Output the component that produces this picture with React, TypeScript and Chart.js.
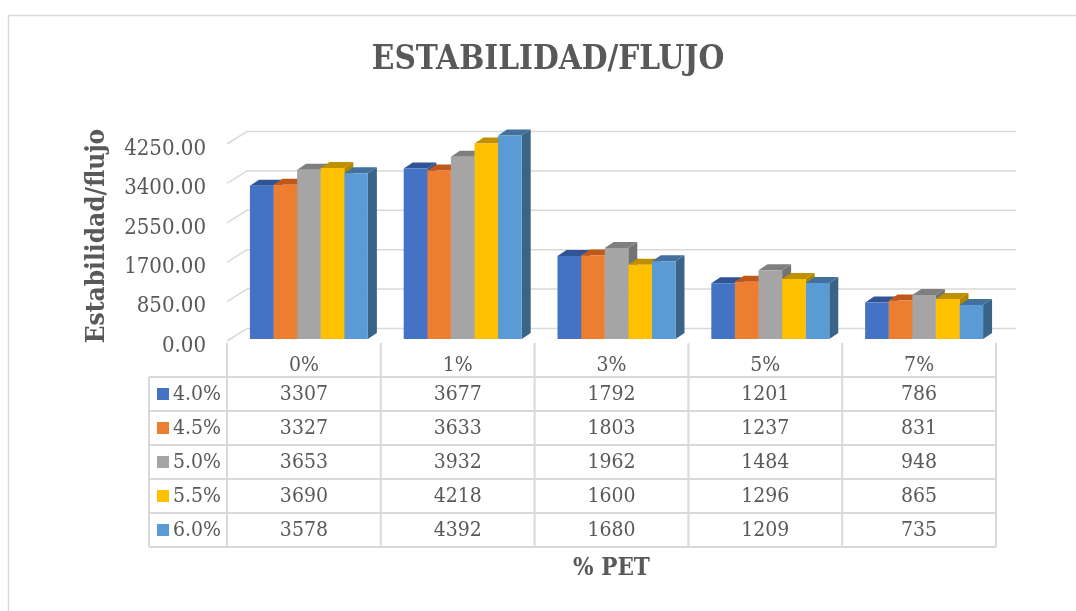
import React, { useEffect, useRef } from 'react';
import { Chart, registerables } from 'chart.js';

Chart.register(...registerables);

const categories = ['0%', '1%', '3%', '5%', '7%'];
const seriesLabels = ['4.0%', '4.5%', '5.0%', '5.5%', '6.0%'];
const s40 = [3307, 3677, 1792, 1201, 786];
const s45 = [3327, 3633, 1803, 1237, 831];
const s50 = [3653, 3932, 1962, 1484, 948];
const s55 = [3690, 4218, 1600, 1296, 865];
const s60 = [3578, 4392, 1680, 1209, 735];
const yTicks = [0, 850, 1700, 2550, 3400, 4250];
const frontColors = ['#4472C4', '#ED7D31', '#A5A5A5', '#FFC000', '#5B9BD5'];
const topColors = ['#2F5597', '#C0581A', '#7F7F7F', '#BF9000', '#41719C'];
const sideColors = ['#2E5090', '#B0521A', '#737373', '#B08500', '#3A6388'];

const FONT = '"DejaVu Serif Condensed", "DejaVu Serif", serif';
const TEXT = '#595959';
const LINE = '#d9d9d9';

const DX = 9;
const DY = -6;

const threeDPlugin = {
  id: 'threeD',
  beforeDatasetsDraw(chart: any) {
    const { ctx, chartArea } = chart;
    const y = chart.scales.y;
    ctx.save();
    // outer frame
    ctx.strokeStyle = LINE;
    ctx.lineWidth = 1.5;
    ctx.beginPath();
    ctx.moveTo(8.5, 611);
    ctx.lineTo(8.5, 15.5);
    ctx.lineTo(1076, 15.5);
    ctx.stroke();

    // 3D gridlines
    const catW = (chartArea.right - chartArea.left) / categories.length;
    const frontLeft = chartArea.left - 5;
    const frontRight = frontLeft + catW * categories.length;
    ctx.strokeStyle = LINE;
    ctx.lineWidth = 1.5;
    for (const v of yTicks) {
      const py = y.getPixelForValue(v);
      ctx.beginPath();
      ctx.moveTo(frontLeft, py + 2);
      ctx.lineTo(frontLeft + 20, py - 10.5);
      ctx.lineTo(frontRight + 20, py - 10.5);
      ctx.stroke();
    }

    // y tick labels
    ctx.fillStyle = TEXT;
    ctx.font = `22px ${FONT}`;
    ctx.textAlign = 'right';
    ctx.textBaseline = 'middle';
    for (const v of yTicks) {
      const py = y.getPixelForValue(v);
      ctx.fillText(v.toFixed(2), 206, py + 7);
    }

    // y title
    ctx.save();
    ctx.translate(97, 236);
    ctx.rotate(-Math.PI / 2);
    ctx.font = `bold 26px ${FONT}`;
    ctx.textAlign = 'center';
    ctx.textBaseline = 'middle';
    ctx.fillText('Estabilidad/flujo', 0, 0);
    ctx.restore();

    // chart title
    ctx.font = `bold 33px ${FONT}`;
    ctx.textAlign = 'center';
    ctx.textBaseline = 'middle';
    ctx.fillText('ESTABILIDAD/FLUJO', 548, 60);

    // x title
    ctx.font = `bold 24px ${FONT}`;
    ctx.fillText('% PET', (frontLeft + frontRight) / 2, 569);

    // data table
    const headTop = 343;
    const rowTop = 377;
    const rowH = 34;
    const legendLeft = 149;
    const nRows = seriesLabels.length;
    ctx.strokeStyle = LINE;
    ctx.lineWidth = 2;
    for (let i = 0; i <= categories.length; i++) {
      const px = frontLeft + i * catW;
      ctx.beginPath();
      ctx.moveTo(px, headTop);
      ctx.lineTo(px, rowTop + nRows * rowH);
      ctx.stroke();
    }
    ctx.beginPath();
    ctx.moveTo(legendLeft, rowTop);
    ctx.lineTo(legendLeft, rowTop + nRows * rowH);
    ctx.stroke();
    for (let r = 0; r <= nRows; r++) {
      const py = rowTop + r * rowH;
      ctx.beginPath();
      ctx.moveTo(legendLeft, py);
      ctx.lineTo(frontRight, py);
      ctx.stroke();
    }
    ctx.fillStyle = TEXT;
    ctx.font = `21px ${FONT}`;
    ctx.textAlign = 'center';
    ctx.textBaseline = 'middle';
    categories.forEach((c, i) => {
      ctx.fillText(c, frontLeft + (i + 0.5) * catW, 366);
    });
    chart.data.datasets.forEach((ds: any, r: number) => {
      const cy = rowTop + r * rowH + rowH / 2 + 1;
      ctx.fillStyle = frontColors[r];
      ctx.fillRect(157, cy - 7, 12, 12);
      ctx.fillStyle = TEXT;
      ctx.textAlign = 'left';
      ctx.fillText(ds.label, 173, cy);
      ctx.textAlign = 'center';
      ds.data.forEach((v: number, i: number) => {
        ctx.fillText(String(v), frontLeft + (i + 0.5) * catW, cy);
      });
    });

    // bar side and top faces
    chart.data.datasets.forEach((ds: any, di: number) => {
      const meta = chart.getDatasetMeta(di);
      meta.data.forEach((bar: any) => {
        const { x: bx, y: by, base, width } = bar.getProps(['x', 'y', 'base', 'width'], true);
        const l = bx - width / 2;
        const r = bx + width / 2;
        ctx.fillStyle = sideColors[di];
        ctx.beginPath();
        ctx.moveTo(r, by);
        ctx.lineTo(r + DX, by + DY);
        ctx.lineTo(r + DX, base + DY);
        ctx.lineTo(r, base);
        ctx.closePath();
        ctx.fill();
        ctx.fillStyle = topColors[di];
        ctx.beginPath();
        ctx.moveTo(l, by);
        ctx.lineTo(l + DX, by + DY);
        ctx.lineTo(r + DX, by + DY);
        ctx.lineTo(r, by);
        ctx.closePath();
        ctx.fill();
      });
    });
    ctx.restore();
  },
};

export default function App() {
  const ref = useRef<HTMLCanvasElement | null>(null);
  useEffect(() => {
    document.body.style.margin = '0';
    const canvas = ref.current;
    if (!canvas) return;
    const seriesValues = [s40, s45, s50, s55, s60];
    const chart = new Chart(canvas, {
      type: 'bar',
      data: {
        labels: categories,
        datasets: seriesValues.map((vals, i) => ({
          label: seriesLabels[i],
          data: vals,
          backgroundColor: frontColors[i],
          borderWidth: 0,
          categoryPercentage: 0.767,
          barPercentage: 1,
          clip: false as any,
        })),
      },
      options: {
        responsive: false,
        animation: false,
        devicePixelRatio: 1,
        layout: { padding: { left: 232, right: 75, top: 142, bottom: 272 } },
        plugins: { legend: { display: false }, title: { display: false }, tooltip: { enabled: false } },
        scales: {
          x: { display: false },
          y: { display: false, min: 0, max: 4250, ticks: { stepSize: 850 } },
        },
      },
      plugins: [threeDPlugin],
    });
    return () => chart.destroy();
  }, []);
  return (
    <div style={{ width: 1076, height: 611, background: '#fff' }}>
      <canvas ref={ref} width={1076} height={611} style={{ display: 'block' }} />
    </div>
  );
}
